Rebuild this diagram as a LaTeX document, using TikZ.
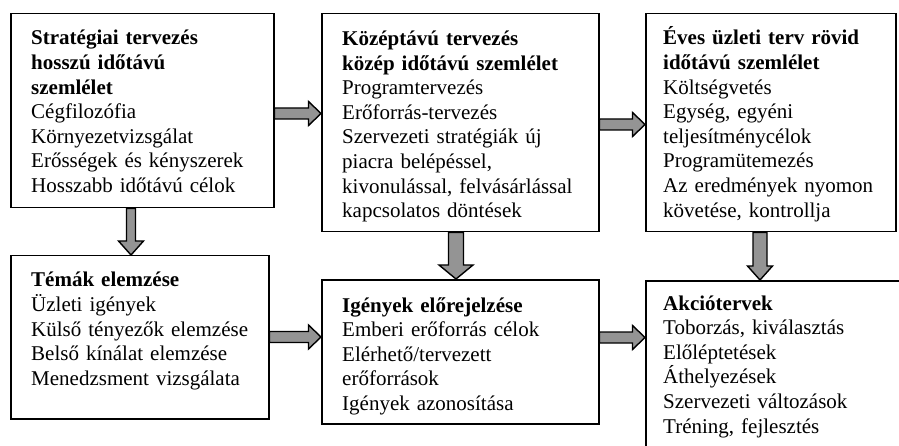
\documentclass[tikz,border=0pt]{standalone}
\usepackage{fontspec}
\setmainfont{Liberation Serif}
\definecolor{arrowfill}{gray}{0.58}
\tikzset{
  stage/.style={draw=black, line width=1.5pt, fill=white, inner sep=0pt, anchor=north west},
  stagetext/.style={anchor=base west, inner sep=0pt, text width=300pt, align=left,
    font=\fontsize{21}{24.6}\selectfont},
  blockarrow/.style={draw=black, fill=arrowfill, line width=1.4pt, line join=miter},
}
% right-pointing block arrow: #1 start, #2 tip (same height)
\newcommand{\rightblock}[2]{%
  \draw[blockarrow] ([shift={(0,-5.5)}]#1) -- ([shift={(-12.5,-5.5)}]#2)
    -- ([shift={(-12.5,-12)}]#2) -- (#2) -- ([shift={(-12.5,12)}]#2)
    -- ([shift={(-12.5,5.5)}]#2) -- ([shift={(0,5.5)}]#1) -- cycle;}
% down-pointing block arrow: #1 start, #2 tip, #3 shaft half width, #4 head half width
\newcommand{\downblock}[4]{%
  \draw[blockarrow] ([shift={(-#3,0)}]#1) -- ([shift={(-#3,-14)}]#2)
    -- ([shift={(-#4,-14)}]#2) -- (#2) -- ([shift={(#4,-14)}]#2)
    -- ([shift={(#3,-14)}]#2) -- ([shift={(#3,0)}]#1) -- cycle;}
\begin{document}
\begin{tikzpicture}[x=1pt, y=-1pt]
  \clip (0,0) rectangle (899,446);
  \fill[white] (0,0) rectangle (899,446);

  % stage boxes
  \node[stage, minimum width=263pt, minimum height=194pt] (b1) at (10,13) {};
  \node[stage, minimum width=277pt, minimum height=218pt] (b2) at (321,13) {};
  \node[stage, minimum width=250pt, minimum height=218pt] (b3) at (645,13) {};
  \node[stage, minimum width=258pt, minimum height=163pt] (b4) at (10,255) {};
  \node[stage, minimum width=277pt, minimum height=144pt] (b5) at (321,279) {};
  \node[stage, minimum width=270pt, minimum height=190pt] (b6) at (645,280) {};

  % box contents
  \node[stagetext] (t1) at (31,45) {\textbf{Stratégiai tervezés}\\\textbf{hosszú időtávú}\\\textbf{szemlélet}\\
    Cégfilozófia\\Környezetvizsgálat\\Erősségek és kényszerek\\Hosszabb időtávú célok};
  \node[stagetext] (t2) at (342,45.5) {\textbf{Középtávú tervezés}\\\textbf{közép időtávú szemlélet}\\
    Programtervezés\\Erőforrás-tervezés\\Szervezeti stratégiák új\\piacra belépéssel,\\
    kivonulással, felvásárlással\\kapcsolatos döntések};
  \node[stagetext] (t3) at (663,45) {\textbf{Éves üzleti terv rövid}\\\textbf{időtávú szemlélet}\\
    Költségvetés\\Egység, egyéni\\teljesítménycélok\\Programütemezés\\
    Az eredmények nyomon\\követése, kontrollja};
  \node[stagetext] (t4) at (31,287) {\textbf{Témák elemzése}\\Üzleti igények\\
    Külső tényezők elemzése\\Belső kínálat elemzése\\Menedzsment vizsgálata};
  \node[stagetext] (t5) at (342,312) {\textbf{Igények előrejelzése}\\Emberi erőforrás célok\\
    Elérhető/tervezett\\erőforrások\\Igények azonosítása};
  \node[stagetext] (t6) at (663,310) {\textbf{Akciótervek}\\Toborzás, kiválasztás\\
    Előléptetések\\Áthelyezések\\Szervezeti változások\\Tréning, fejlesztés};

  % arrow end points
  \coordinate (a1s) at (b1.east |- 0,113.5);
  \coordinate (a1e) at (b2.west |- 0,113.5);
  \coordinate (a3s) at (b2.east |- 0,124.5);
  \coordinate (a3e) at (b3.west |- 0,124.5);
  \coordinate (a6s) at (b4.east |- 0,337);
  \coordinate (a6e) at (b5.west |- 0,337);
  \coordinate (a7s) at (b5.east |- 0,337.5);
  \coordinate (a7e) at (b6.west |- 0,337.5);
  \coordinate (a2s) at (b1.south -| 131,0);
  \coordinate (a2e) at (b4.north -| 131,0);
  \coordinate (a4s) at (b2.south -| 456,0);
  \coordinate (a4e) at (b5.north -| 456,0);
  \coordinate (a5s) at (b3.south -| 760,0);
  \coordinate (a5e) at (b6.north -| 760,0);

  % arrows between stages
  \rightblock{a1s}{a1e}
  \rightblock{a3s}{a3e}
  \rightblock{a6s}{a6e}
  \rightblock{a7s}{a7e}
  \downblock{a2s}{a2e}{4.5}{12.5}
  \downblock{a4s}{a4e}{7.5}{17}
  \downblock{a5s}{a5e}{7}{12.5}
\end{tikzpicture}
\end{document}
